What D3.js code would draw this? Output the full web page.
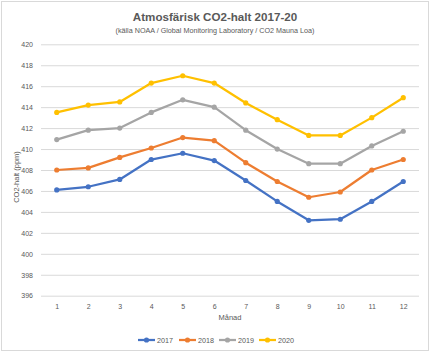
<!DOCTYPE html>
<html>
<head>
<meta charset="utf-8">
<script src="https://cdn.jsdelivr.net/npm/d3@7"></script>
<style>
  body { margin: 0; background: #fff; }
  text { font-family: "Liberation Sans", Arial, sans-serif; fill: #595959; }
</style>
</head>
<body>
<div id="chart"></div>
<script>
var months = [1, 2, 3, 4, 5, 6, 7, 8, 9, 10, 11, 12];
var yTicks = [396, 398, 400, 402, 404, 406, 408, 410, 412, 414, 416, 418, 420];
var years = ["2017", "2018", "2019", "2020"];
var co2_2017 = [406.1, 406.4, 407.1, 409.0, 409.6, 408.9, 407.0, 405.0, 403.2, 403.3, 405.0, 406.9];
var co2_2018 = [408.0, 408.2, 409.2, 410.1, 411.1, 410.8, 408.7, 406.9, 405.4, 405.9, 408.0, 409.0];
var co2_2019 = [410.9, 411.8, 412.0, 413.5, 414.7, 414.0, 411.8, 410.0, 408.6, 408.6, 410.3, 411.7];
var co2_2020 = [413.5, 414.2, 414.5, 416.3, 417.0, 416.3, 414.4, 412.8, 411.3, 411.3, 413.0, 414.9];
var seriesValues = [co2_2017, co2_2018, co2_2019, co2_2020];
var colors = ["#4472C4", "#ED7D31", "#A5A5A5", "#FFC000"];

var width = 434, height = 354;
var margin = { top: 44, right: 15, bottom: 58, left: 41 };

var svg = d3.select("#chart").append("svg")
    .attr("width", width)
    .attr("height", height);

// chart border
svg.append("rect")
    .attr("x", 1.5).attr("y", 1.5)
    .attr("width", 427).attr("height", 349)
    .attr("fill", "#fff")
    .attr("stroke", "#d9d9d9");

var x = d3.scalePoint()
    .domain(months)
    .range([margin.left, width - margin.right])
    .padding(0.5);

var y = d3.scaleLinear()
    .domain([396, 420])
    .range([295.7, 44.3]);

// gridlines + y labels
var yAxis = d3.axisLeft(y)
    .tickValues(yTicks)
    .tickSize(-(width - margin.right - margin.left))
    .tickPadding(8);

var gy = svg.append("g")
    .attr("transform", "translate(" + margin.left + ",0)")
    .call(yAxis);
gy.select(".domain").remove();
gy.selectAll(".tick line").attr("stroke", "#d9d9d9").attr("stroke-width", 1);
gy.selectAll(".tick text")
    .attr("font-size", "7px")
    .style("fill", "#595959");

// x labels
var xAxis = d3.axisBottom(x).tickSize(0).tickPadding(8);
var gx = svg.append("g")
    .attr("transform", "translate(0,295.7)")
    .call(xAxis);
gx.select(".domain").remove();
gx.selectAll(".tick text")
    .attr("font-size", "7px")
    .style("fill", "#595959");

// lines
var line = d3.line()
    .x(function (d, i) { return x(months[i]); })
    .y(function (d) { return y(d); });

seriesValues.forEach(function (vals, k) {
    svg.append("path")
        .datum(vals)
        .attr("fill", "none")
        .attr("stroke", colors[k])
        .attr("stroke-width", 2.25)
        .attr("stroke-linejoin", "round")
        .attr("d", line);

    svg.selectAll(".pt" + k)
        .data(vals)
        .enter()
        .append("circle")
        .attr("cx", function (d, i) { return x(months[i]); })
        .attr("cy", function (d) { return y(d); })
        .attr("r", 2.6)
        .attr("fill", colors[k]);
});

// titles
svg.append("text")
    .attr("x", 215).attr("y", 21)
    .attr("text-anchor", "middle")
    .attr("font-size", "11.6px")
    .attr("font-weight", "bold")
    .text("Atmosfärisk CO2-halt 2017-20");

svg.append("text")
    .attr("x", 215).attr("y", 33)
    .attr("text-anchor", "middle")
    .attr("font-size", "7.2px")
    .text("(källa NOAA / Global Monitoring Laboratory / CO2 Mauna Loa)");

svg.append("text")
    .attr("transform", "translate(19,177) rotate(-90)")
    .attr("text-anchor", "middle")
    .attr("font-size", "7.5px")
    .text("CO2-halt (ppm)");

svg.append("text")
    .attr("x", 230).attr("y", 320)
    .attr("text-anchor", "middle")
    .attr("font-size", "7.5px")
    .text("Månad");

// legend
var legendX = [138, 179, 219, 259];
var legend = svg.selectAll(".legend")
    .data(years)
    .enter()
    .append("g")
    .attr("transform", function (d, i) { return "translate(" + legendX[i] + ",340)"; });

legend.append("line")
    .attr("x1", 0).attr("x2", 17)
    .attr("stroke", function (d, i) { return colors[i]; })
    .attr("stroke-width", 2.25);
legend.append("circle")
    .attr("cx", 8.5).attr("r", 2.6)
    .attr("fill", function (d, i) { return colors[i]; });
legend.append("text")
    .attr("x", 19).attr("y", 2.6)
    .attr("font-size", "7.2px")
    .text(function (d) { return d; });
</script>
</body>
</html>
